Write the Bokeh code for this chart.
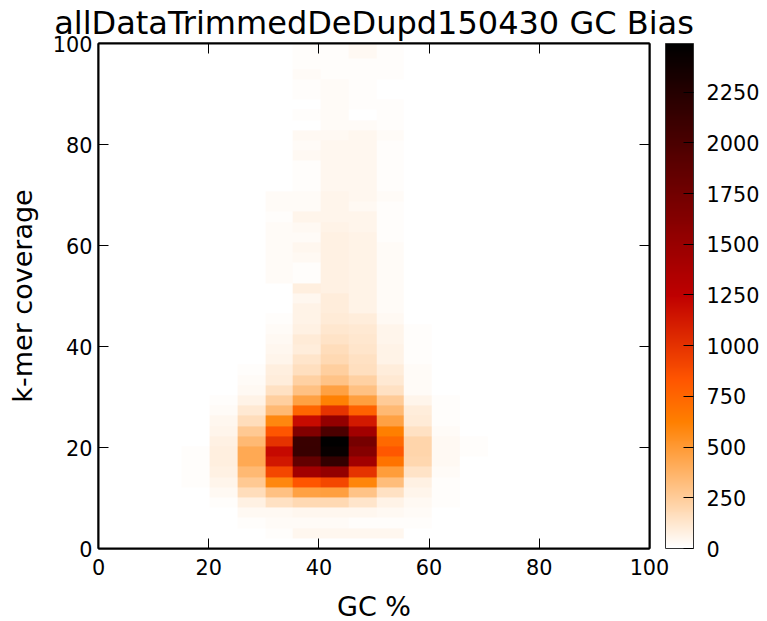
from bokeh.plotting import figure
from bokeh.models import LinearColorMapper, ColorBar, FixedTicker, LinearAxis, Range1d
from bokeh.embed import file_html
from bokeh.resources import INLINE
import numpy as np

title_text = "allDataTrimmedDeDupd150430 GC Bias"
x_label = "GC %"
y_label = "k-mer coverage"
x_ticks = [0, 20, 40, 60, 80, 100]
y_ticks = [0, 20, 40, 60, 80, 100]
bar_ticks = [0, 250, 500, 750, 1000, 1250, 1500, 1750, 2000, 2250]
max_count = 2490
gc_bin = 5.04
cov_bin = 2.02
first_gc_col = 3   # columns below are GC 15-20 % ... 65-70 %
n_cols = 20

# one row per coverage bin, from the bottom; columns GC 15-70 % in 5 % steps
counts = [
    [0, 0, 0, 5, 8, 8, 6, 5, 3, 0, 0],
    [0, 0, 0, 15, 45, 45, 45, 40, 8, 5, 0],
    [0, 0, 10, 20, 25, 20, 18, 15, 10, 5, 6],
    [0, 8, 30, 30, 45, 45, 40, 30, 20, 8, 0],
    [0, 18, 70, 150, 190, 190, 130, 60, 30, 10, 0],
    [8, 35, 170, 310, 460, 470, 300, 150, 50, 14, 0],
    [12, 50, 270, 590, 830, 900, 600, 330, 70, 18, 8],
    [12, 70, 350, 900, 1430, 1530, 1000, 480, 140, 25, 8],
    [12, 85, 420, 1130, 1840, 2150, 1430, 690, 200, 30, 8],
    [12, 80, 420, 1200, 2130, 2440, 1620, 820, 210, 35, 10],
    [8, 70, 350, 1000, 2120, 2480, 1720, 730, 210, 30, 10],
    [0, 50, 270, 830, 1650, 2000, 1430, 630, 150, 25, 6],
    [0, 40, 170, 590, 1190, 1530, 1120, 460, 100, 14, 0],
    [0, 25, 110, 350, 750, 1000, 770, 350, 90, 14, 0],
    [0, 18, 60, 240, 460, 620, 470, 260, 50, 12, 0],
    [0, 0, 35, 150, 310, 460, 310, 150, 25, 8, 0],
    [0, 0, 20, 90, 230, 300, 230, 110, 25, 6, 0],
    [0, 0, 12, 80, 165, 235, 160, 90, 20, 4, 0],
    [0, 0, 5, 50, 130, 190, 150, 60, 15, 0, 0],
    [0, 0, 0, 45, 90, 170, 135, 60, 15, 0, 0],
    [0, 0, 0, 30, 105, 140, 125, 55, 15, 0, 0],
    [0, 0, 0, 20, 75, 125, 115, 50, 12, 0, 0],
    [0, 0, 0, 15, 60, 100, 90, 35, 8, 0, 0],
    [0, 0, 3, 3, 60, 95, 60, 28, 5, 0, 0],
    [0, 0, 4, 5, 40, 90, 60, 28, 5, 0, 0],
    [0, 0, 0, 0, 85, 75, 60, 28, 5, 0, 0],
    [0, 0, 0, 25, 15, 75, 65, 28, 5, 0, 0],
    [0, 0, 0, 25, 18, 75, 65, 28, 5, 0, 0],
    [0, 0, 0, 20, 35, 75, 65, 22, 5, 0, 0],
    [0, 0, 0, 20, 45, 75, 65, 20, 5, 0, 0],
    [0, 0, 0, 22, 20, 70, 60, 18, 4, 0, 0],
    [0, 0, 0, 22, 30, 65, 55, 18, 3, 0, 0],
    [0, 0, 0, 10, 55, 55, 55, 15, 0, 0, 0],
    [0, 0, 0, 25, 25, 55, 30, 15, 0, 0, 0],
    [0, 0, 0, 25, 22, 50, 40, 20, 5, 0, 0],
    [0, 0, 0, 5, 18, 42, 42, 15, 5, 0, 0],
    [0, 0, 0, 5, 18, 42, 42, 15, 4, 0, 0],
    [0, 0, 0, 5, 18, 42, 42, 18, 0, 0, 0],
    [0, 0, 0, 5, 30, 40, 42, 18, 5, 0, 0],
    [0, 0, 0, 5, 22, 40, 42, 18, 0, 0, 0],
    [0, 0, 0, 0, 30, 38, 40, 22, 0, 0, 0],
    [0, 0, 0, 0, 6, 22, 28, 10, 4, 0, 0],
    [0, 0, 0, 5, 12, 22, 8, 10, 0, 0, 0],
    [0, 0, 0, 5, 6, 22, 18, 10, 3, 0, 0],
    [0, 0, 0, 4, 15, 20, 18, 8, 0, 0, 0],
    [0, 0, 4, 3, 15, 20, 10, 8, 0, 0, 0],
    [0, 0, 0, 3, 22, 18, 14, 10, 0, 0, 0],
    [0, 0, 0, 0, 15, 15, 18, 12, 3, 0, 0],
    [0, 0, 0, 8, 15, 18, 30, 12, 0, 0, 0],
    [0, 0, 0, 8, 15, 18, 30, 12, 0, 0, 0],
]

FONT = "DejaVu Sans"

def gist_heat_r(n=256):
    out = []
    for i in range(n):
        x = 1 - i / (n - 1)
        r = min(1.5 * x, 1)
        g = max(2 * x - 1, 0)
        b = max(4 * x - 3, 0)
        out.append("#%02x%02x%02x" % (round(r * 255), round(g * 255), round(b * 255)))
    return out

grid = np.zeros((len(counts), n_cols))
grid[:, first_gc_col:first_gc_col + len(counts[0])] = np.array(counts, dtype=float)

mapper = LinearColorMapper(palette=gist_heat_r(), low=0, high=max_count)

p = figure(frame_width=551, frame_height=505, output_backend="svg", toolbar_location=None,
           x_range=Range1d(0, 100), y_range=Range1d(0, 100),
           min_border_left=98, min_border_top=43, min_border_right=115, min_border_bottom=10,
           background_fill_color="white")
p.image(image=[grid], x=0, y=0, dw=n_cols * gc_bin, dh=len(counts) * cov_bin, color_mapper=mapper)

p.title.text = title_text
p.title.text_font = FONT
p.title.text_font_size = "32px"
p.title.text_font_style = "normal"
p.title.text_color = "black"
p.title.align = "center"
p.title.standoff = 3
p.grid.visible = False
p.outline_line_color = "black"
p.outline_line_width = 2

for ax, lab, ticks in ((p.xaxis[0], x_label, x_ticks), (p.yaxis[0], y_label, y_ticks)):
    ax.ticker = FixedTicker(ticks=ticks)
    ax.axis_label = lab
    ax.axis_label_text_font = FONT
    ax.axis_label_text_font_size = "27px"
    ax.axis_label_text_font_style = "normal"
    ax.axis_label_text_color = "black"
    ax.major_label_text_font = FONT
    ax.major_label_text_font_size = "20.8px"
    ax.major_label_text_color = "black"
    ax.major_tick_in = 10
    ax.major_tick_out = 0
    ax.minor_tick_line_color = None
    ax.axis_line_color = "black"
    ax.axis_line_width = 2
    ax.major_tick_line_color = "black"
p.xaxis[0].major_label_standoff = 10
p.yaxis[0].major_label_standoff = 6
p.xaxis[0].axis_label_standoff = 13
p.yaxis[0].axis_label_standoff = 12

for side, ticks in (("above", x_ticks), ("right", y_ticks)):
    a = LinearAxis(ticker=FixedTicker(ticks=ticks), major_label_overrides={t: "" for t in ticks},
                   major_tick_in=10, major_tick_out=0, minor_tick_line_color=None,
                   major_label_standoff=0, axis_line_color="black", axis_line_width=2,
                   major_tick_line_color="black")
    p.add_layout(a, side)

cb = ColorBar(color_mapper=mapper, ticker=FixedTicker(ticks=bar_ticks), width=28, height=505,
              location=(567, 0), padding=0, margin=0, major_tick_in=10, major_tick_out=0,
              minor_tick_line_color=None, major_tick_line_color="black", major_tick_line_width=1,
              bar_line_color="#333333", bar_line_width=1,
              major_label_text_font=FONT, major_label_text_font_size="20.8px",
              major_label_text_color="black", label_standoff=13,
              border_line_color=None, background_fill_color=None)
p.add_layout(cb)

open("out.html", "w").write(file_html(p, INLINE))
